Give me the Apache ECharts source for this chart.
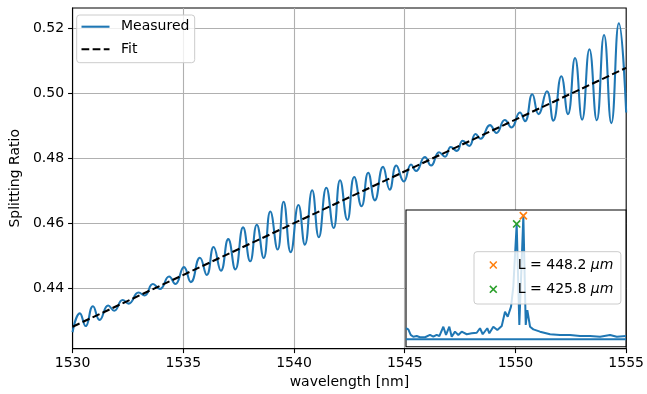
<!DOCTYPE html>
<html>
<head>
<meta charset="utf-8">
<script src="https://cdn.jsdelivr.net/npm/echarts@6.0.0/dist/echarts.min.js"></script>
<style>
html,body{margin:0;padding:0;background:#fff;}
#chart{width:647px;height:394px;}
</style>
</head>
<body>
<div id="chart"></div>
<script>
// ---- data ----
const wavelength = [1530.00,1530.33,1530.59,1530.92,1531.22,1531.61,1531.88,1532.26,1532.53,1532.98,
  1533.25,1533.63,1533.94,1534.36,1534.64,1535.03,1535.34,1535.75,1536.06,1536.37,
  1536.70,1537.03,1537.35,1537.70,1538.02,1538.32,1538.63,1538.93,1539.26,1539.53,
  1539.85,1540.20,1540.49,1540.82,1541.12,1541.46,1541.79,1542.08,1542.41,1542.72,
  1543.05,1543.35,1543.65,1544.02,1544.32,1544.62,1544.96,1545.29,1545.51,1545.91,
  1546.19,1546.55,1546.82,1547.08,1547.35,1547.62,1547.91,1548.20,1548.42,1548.85,
  1549.14,1549.52,1549.82,1550.20,1550.43,1550.76,1551.04,1551.42,1551.71,1552.07,
  1552.37,1552.69,1553.01,1553.34,1553.67,1554.00,1554.33,1554.67,1555.00];
const measured = [0.4266,0.4324,0.4285,0.4346,0.4304,0.4348,0.4332,0.4365,0.4354,0.4388,
  0.4379,0.4414,0.4399,0.4437,0.4414,0.4466,0.4420,0.4495,0.4442,0.4528,
  0.4455,0.4552,0.4459,0.4588,0.4484,0.4596,0.4494,0.4637,0.4520,0.4667,
  0.4512,0.4657,0.4535,0.4702,0.4558,0.4710,0.4586,0.4733,0.4611,0.4743,
  0.4653,0.4756,0.4671,0.4774,0.4704,0.4778,0.4729,0.4781,0.4761,0.4804,
  0.4778,0.4819,0.4805,0.4835,0.4823,0.4854,0.4838,0.4875,0.4860,0.4902,
  0.4878,0.4918,0.4895,0.4941,0.4914,0.4997,0.4936,0.5006,0.4916,0.5052,
  0.4936,0.5108,0.4919,0.5135,0.4917,0.5179,0.4908,0.5215,0.4941];
const fitWavelength = [1530, 1555];
const fitValues = [0.4283, 0.5078];
const xTicks = [1530, 1535, 1540, 1545, 1550, 1555];
const yTicks = [0.44, 0.46, 0.48, 0.50, 0.52];

// inset: spectrum (length axis in µm, amplitude arbitrary 0-100)
const insetL = [54,61.8,69.8,78.5,90,101,118,134.6,145.8,157,166,179.4,188.4,199.5,207.5,218.6,229.7,241,258,274.8,
  291.6,302.6,311.7,327,333.9,347.3,360.8,375.6,386.6,395.7,406.8,414.5,425.8,434.7,448.2,456.2,461.6,470.7,481.8,504.2,
  538,571.4,605,638.6,672,706,739.4,762,793];
const insetAmp = [13.5,12.7,8.6,7.3,7.8,6.9,6.9,8.6,7.3,8.6,7.8,14.6,8.6,14.6,7.3,11,8.6,11,9.1,9.8,
  10.2,13.5,9.1,13.5,9.8,14.6,12.2,15.1,25.6,21.9,29.3,43.9,89.8,15.9,95.8,15.9,26.8,14.6,12.7,11,
  9.1,8.6,8.6,7.8,7.8,7.3,8.6,7.3,7.8];
const baselineL = [54, 793];
const baselineAmp = [5.4, 5.4];
const peakNames = ['L = 448.2 μm', 'L = 425.8 μm'];
const peakL = [448.2, 425.8];
const peakAmp = [95.8, 89.8];
const peakColors = ['#ff7f0e', '#2ca02c'];

// ---- chart ----
const FONT = 'DejaVu Sans';
const LW = 2.08;   // 1.5 pt
const THIN = 1.1;  // 0.8 pt
const xMark = 'path://M0,1.4L1.4,0L5,3.6L8.6,0L10,1.4L6.4,5L10,8.6L8.6,10L5,6.4L1.4,10L0,8.6L3.6,5Z';
const solidIcon = 'path://M0,0H27.8V2.08H0Z';
const dashIcon = 'path://M0,0H7.7V2.08H0Z M11.05,0H18.75V2.08H11.05Z M22.1,0H27.8V2.08H22.1Z';
const zip = (a, b) => a.map((v, i) => [v, b[i]]);

const chart = echarts.init(document.getElementById('chart'), null, {renderer: 'canvas'});
const option = {
  backgroundColor: '#fff',
  animation: false,
  textStyle: {fontFamily: FONT},
  grid: [
    {left: 69.3, right: 17.7, top: 8, bottom: 42.5, show: true, backgroundColor: '#fff',
     borderColor: '#000', borderWidth: THIN, z: 0},
    {left: 406, top: 210, width: 220, height: 136.7, show: true, backgroundColor: '#fff',
     borderColor: '#000', borderWidth: THIN, z: 3}
  ],
  xAxis: [
    {type: 'value', gridIndex: 0, min: 1530, max: 1555, interval: 5,
     name: 'wavelength [nm]', nameLocation: 'middle', nameGap: 25,
     nameTextStyle: {fontSize: 14, color: '#000', fontFamily: FONT},
     axisLine: {show: true, onZero: false, lineStyle: {color: '#000', width: THIN}},
     axisTick: {show: true, length: 4.5, customValues: xTicks, lineStyle: {color: '#000', width: THIN}},
     axisLabel: {fontSize: 14, color: '#000', margin: 7.5, fontFamily: FONT, customValues: xTicks,
                 formatter: v => String(v)},
     splitLine: {show: true, showMinLine: false, showMaxLine: false, lineStyle: {color: '#b0b0b0', width: THIN}}},
    {type: 'value', gridIndex: 1, min: 54, max: 793, show: false, splitLine: {show: false}}
  ],
  yAxis: [
    {type: 'value', gridIndex: 0, min: 0.42158, max: 0.52618,
     name: 'Splitting Ratio', nameLocation: 'middle', nameGap: 45,
     nameTextStyle: {fontSize: 14, color: '#000', fontFamily: FONT},
     axisLine: {show: true, onZero: false, lineStyle: {color: '#000', width: THIN}},
     axisTick: {show: true, length: 4.5, customValues: yTicks, lineStyle: {color: '#000', width: THIN}},
     axisLabel: {fontSize: 14, color: '#000', margin: 8.5, fontFamily: FONT, customValues: yTicks,
                 formatter: v => Number(v).toFixed(2)},
     splitLine: {show: true, lineStyle: {color: '#b0b0b0', width: THIN}}},
    {type: 'value', gridIndex: 1, min: 0, max: 100, show: false, splitLine: {show: false}}
  ],
  legend: [
    {data: [{name: 'Measured', icon: solidIcon}, {name: 'Fit', icon: dashIcon}],
     orient: 'vertical', left: 76.7, top: 15,
     padding: [3.7, 5.3, 5.4, 4.8], itemWidth: 28, itemHeight: 14, itemGap: 6.6,
     backgroundColor: 'rgba(255,255,255,0.8)', borderColor: '#cccccc', borderWidth: 1, borderRadius: 3,
     textStyle: {fontSize: 14, color: '#000', fontFamily: FONT, lineHeight: 16, padding: [0, 0, 0, 6.5]},
     z: 10},
    {data: peakNames, orient: 'vertical', left: 474, top: 251.7,
     padding: [4.8, 7.6, 6.2, 15.3], itemWidth: 8, itemHeight: 8, itemGap: 7.3,
     backgroundColor: 'rgba(255,255,255,0.8)', borderColor: '#cccccc', borderWidth: 1, borderRadius: 3,
     formatter: name => '{sp|}' + name.replace('μm', '{i|μm}'),
     textStyle: {fontSize: 14, color: '#000', fontFamily: FONT, lineHeight: 17,
       rich: {sp: {width: 15.5, lineHeight: 17},
              i: {fontStyle: 'italic', fontSize: 14, fontFamily: FONT, color: '#000', lineHeight: 17}}},
     z: 10}
  ],
  series: [
    {name: 'Measured', type: 'line', xAxisIndex: 0, yAxisIndex: 0, data: zip(wavelength, measured),
     smooth: 0.5, symbol: 'none', lineStyle: {color: '#1f77b4', width: LW}, itemStyle: {color: '#1f77b4'}, z: 2},
    {name: 'Fit', type: 'line', xAxisIndex: 0, yAxisIndex: 0, data: zip(fitWavelength, fitValues),
     symbol: 'none', lineStyle: {color: '#000', width: LW, type: [7.7, 3.33]}, itemStyle: {color: '#000'}, z: 3},
    {name: 'spectrum', type: 'line', xAxisIndex: 1, yAxisIndex: 1, data: zip(insetL, insetAmp),
     symbol: 'none', lineStyle: {color: '#1f77b4', width: 2}, z: 5},
    {name: 'baseline', type: 'line', xAxisIndex: 1, yAxisIndex: 1, data: zip(baselineL, baselineAmp),
     symbol: 'none', lineStyle: {color: '#1f77b4', width: 2}, z: 5},
    ...peakNames.map((n, i) => ({
      name: n, type: 'scatter', xAxisIndex: 1, yAxisIndex: 1, data: [[peakL[i], peakAmp[i]]],
      symbol: xMark, symbolSize: 8.3, itemStyle: {color: peakColors[i], opacity: 1}, z: 6
    }))
  ]
};
chart.setOption(option);
</script>
</body>
</html>
